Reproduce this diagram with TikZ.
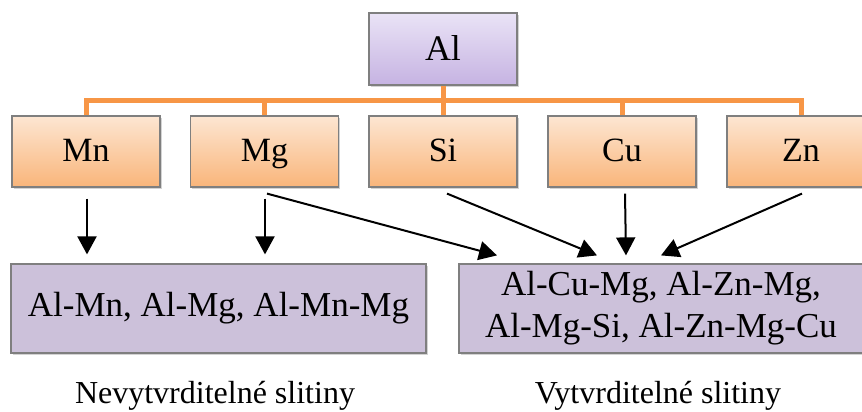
\documentclass[tikz,border=0pt]{standalone}
\usepackage{fontspec}
\setmainfont{Liberation Serif}
\usetikzlibrary{shadows,calc,arrows.meta}
\definecolor{alTop}{HTML}{EAE3F6}
\definecolor{alBot}{HTML}{C6B3E2}
\definecolor{orTop}{HTML}{FDE6D2}
\definecolor{orBot}{HTML}{F9B57A}
\definecolor{lav}{HTML}{CCC1DA}
\definecolor{bord}{HTML}{7F7F7F}
\definecolor{orLine}{HTML}{F79646}
\tikzset{
  x=1pt, y=1pt,
  base/.style={draw=bord, line width=1.2pt, inner sep=0pt,
    drop shadow={opacity=0.35, shadow xshift=1.5pt, shadow yshift=-2.5pt}},
  albox/.style={base, top color=alTop, bottom color=alBot, text height=23pt, text depth=0pt,
    minimum width=148pt, minimum height=72pt, font=\fontsize{36}{40}\selectfont},
  elbox/.style={base, top color=orTop, bottom color=orBot, text height=21pt, text depth=0pt,
    minimum width=148pt, minimum height=71pt, font=\fontsize{34}{38}\selectfont},
  alloy/.style={base, fill=lav, minimum height=89pt, font=\fontsize{35}{42}\selectfont, align=center},
  lbl/.style={font=\fontsize{32}{36}\selectfont, inner sep=0pt, anchor=base},
  org/.style={draw=orLine, line width=5pt},
  arr/.style={draw=black, line width=2pt, -{Triangle[length=18pt,width=19pt]}}
}
\begin{document}
\begin{tikzpicture}
\useasboundingbox (0,0) rectangle (862,412);
\node[albox] (al) at (443,363) {Al};
\node[elbox] (mn) at (86,260.5) {Mn};
\node[elbox] (mg) at (264.5,260.5) {Mg};
\node[elbox] (si) at (443,260.5) {Si};
\node[elbox] (cu) at (622,260.5) {Cu};
\node[elbox] (zn) at (801,260.5) {Zn};
\node[alloy, minimum width=415pt] (lb) at (218.5,103.5) {Al-Mn, Al-Mg, Al-Mn-Mg};
\node[alloy, minimum width=404pt] (rb) at (661,103.5) {Al-Cu-Mg, Al-Zn-Mg,\\Al-Mg-Si, Al-Zn-Mg-Cu};
\node[lbl] (nl) at (215,8) {Nevytvrditelné slitiny};
\node[lbl] (vl) at (658,8) {Vytvrditelné slitiny};
\coordinate (bus) at (443,311);
% orange connectors
\draw[org] (al.south) -- (bus);
\draw[org, line join=miter] (mn.north) -- (mn.north |- bus) -- (zn.north |- bus) -- (zn.north);
\draw[org] (mg.north) -- (mg.north |- bus);
\draw[org] (si.north) -- (si.north |- bus);
\draw[org] (cu.north) -- (cu.north |- bus);
% arrows
\draw[arr] ($(mn.south)+(1pt,-11pt)$) -- ($(mn.south |- lb.north)+(1pt,9pt)$);
\draw[arr] ($(mg.south)+(0.5pt,-11pt)$) -- ($(mg.south |- lb.north)+(0.5pt,9pt)$);
\draw[arr] ($(mg.south)+(2.5pt,-6pt)$) -- ($(rb.north)+(-164pt,8pt)$);
\draw[arr] ($(si.south)+(4pt,-6pt)$) -- ($(rb.north)+(-64pt,8pt)$);
\draw[arr] ($(cu.south)+(3pt,-6pt)$) -- ($(rb.north)+(-35pt,8pt)$);
\draw[arr] ($(zn.south)+(1pt,-6pt)$) -- ($(rb.north)+(0pt,8pt)$);
\end{tikzpicture}
\end{document}
